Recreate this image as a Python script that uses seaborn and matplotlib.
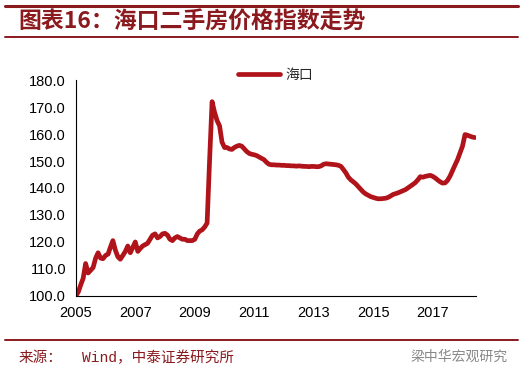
import pandas as pd
import numpy as np
import matplotlib.pyplot as plt
import matplotlib.dates as mdates
import seaborn as sns

# Haikou second-hand housing price index, monthly
v2005 = [100.0, 101.5, 104.0, 106.5, 112.0, 108.5, 109.5, 110.5, 114.0, 116.0, 114.0, 113.8]
v2006 = [115.0, 115.5, 118.0, 120.5, 117.0, 114.5, 113.6, 115.0, 116.5, 118.5, 116.0, 118.0]
v2007 = [120.0, 116.5, 117.5, 118.5, 119.0, 119.5, 121.0, 122.5, 123.0, 121.5, 122.0, 123.0]
v2008 = [123.2, 122.5, 121.0, 120.5, 121.5, 122.0, 121.5, 121.0, 121.0, 120.5, 120.5, 120.5]
v2009 = [121.0, 123.0, 124.0, 124.5, 125.5, 127.0, 150.0, 172.0, 168.0, 165.0, 163.0, 157.0]
v2010 = [155.0, 155.0, 154.5, 154.3, 155.0, 155.5, 155.8, 155.5, 154.5, 153.5, 152.8, 152.5]
v2011 = [152.3, 152.0, 151.5, 151.0, 150.5, 149.5, 148.8, 148.6, 148.6, 148.5, 148.5, 148.4]
v2012 = [148.4, 148.3, 148.3, 148.2, 148.2, 148.1, 148.2, 148.1, 148.0, 148.0, 147.9, 148.0]
v2013 = [148.0, 147.9, 147.9, 148.2, 148.8, 149.0, 148.9, 148.8, 148.7, 148.6, 148.4, 148.0]
v2014 = [146.8, 145.5, 144.0, 143.0, 142.3, 141.5, 140.5, 139.5, 138.5, 137.8, 137.3, 136.8]
v2015 = [136.5, 136.2, 136.0, 136.0, 136.1, 136.2, 136.5, 137.0, 137.6, 137.9, 138.2, 138.6]
v2016 = [139.0, 139.4, 140.0, 140.6, 141.3, 142.0, 143.0, 144.2, 144.0, 144.3, 144.5, 144.7]
v2017 = [144.3, 143.7, 143.0, 142.3, 141.8, 141.9, 142.8, 144.4, 146.5, 148.5, 150.5, 153.0]
v2018 = [155.5, 159.8, 159.6, 159.2, 158.9, 158.7]

values = (v2005 + v2006 + v2007 + v2008 + v2009 + v2010 + v2011 + v2012
          + v2013 + v2014 + v2015 + v2016 + v2017 + v2018)
dates = pd.date_range("2005-01-01", periods=len(values), freq="MS")
df = pd.DataFrame({"date": dates, "海口": values})

yticks = [100, 110, 120, 130, 140, 150, 160, 170, 180]
xtick_years = [2005, 2007, 2009, 2011, 2013, 2015, 2017]

sns.set_style("white")
plt.rcParams["font.family"] = ["Liberation Sans", "Noto Sans CJK SC", "DejaVu Sans"]

dark_red = "#8B1A1F"
line_red = "#B0141A"

fig = plt.figure(figsize=(5.23, 3.76), dpi=100)
ax = fig.add_axes([0.145, 0.213, 0.765, 0.574])

sns.lineplot(data=df, x="date", y="海口", color=line_red, linewidth=3.4,
             label="海口", ax=ax)

ax.set_ylim(100, 180)
ax.set_yticks(yticks)
ax.yaxis.set_major_formatter(plt.FormatStrFormatter("%.1f"))
ax.set_xlim(pd.Timestamp("2005-01-01"), pd.Timestamp("2018-06-15"))
ax.set_xticks([pd.Timestamp(f"{y}-01-01") for y in xtick_years])
ax.xaxis.set_major_formatter(mdates.DateFormatter("%Y"))
ax.set_xlabel("")
ax.set_ylabel("")

for s in ["top", "right"]:
    ax.spines[s].set_visible(False)
for s in ["left", "bottom"]:
    ax.spines[s].set_color("black")
    ax.spines[s].set_linewidth(0.8)
ax.tick_params(axis="both", direction="out", length=4, width=0.8,
               color="black", labelsize=10.5, labelcolor="black", pad=3)

leg = ax.legend(loc="center", bbox_to_anchor=(0.50, 1.025), frameon=False,
                handlelength=3.0, handletextpad=0.4,
                prop={"family": ["Noto Sans CJK SC"], "size": 10})

# header and footer decoration
fig.add_artist(plt.Line2D([0.01, 0.99], [0.984, 0.984], color=dark_red, lw=2.2))
fig.add_artist(plt.Line2D([0.01, 0.99], [0.901, 0.901], color=dark_red, lw=1.4))
fig.text(0.035, 0.942, "图表16：海口二手房价格指数走势", color=dark_red,
         fontsize=16.5, fontweight="bold", style="italic", va="center",
         family=["Noto Sans CJK SC", "DejaVu Sans"])
fig.add_artist(plt.Line2D([0.01, 0.99], [0.096, 0.096], color=dark_red, lw=1.4))
fig.text(0.035, 0.048, "来源：", color=dark_red, fontsize=10.5, va="center",
         family=["Noto Sans CJK SC", "DejaVu Sans"])
fig.text(0.157, 0.048, "Wind，中泰证券研究所", color=dark_red, fontsize=10.5,
         va="center", family=["Liberation Mono", "Noto Sans CJK SC"])
fig.text(0.97, 0.052, "梁中华宏观研究", color="#888888", fontsize=10,
         ha="right", va="center", family=["Noto Sans CJK SC"])

plt.savefig("out.png", dpi=100)
plt.close()
